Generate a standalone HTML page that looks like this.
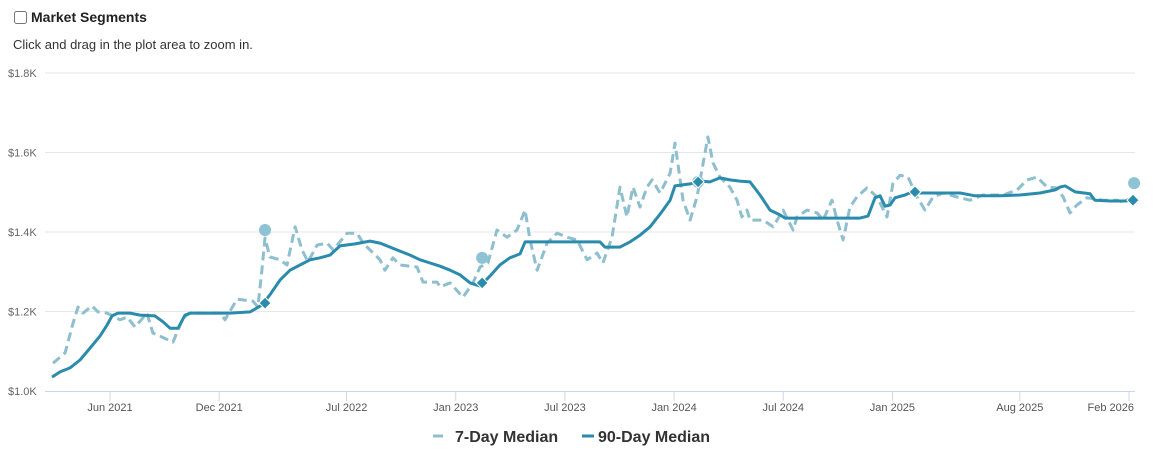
<!DOCTYPE html>
<html><head><meta charset="utf-8"><style>
body{margin:0;background:#fff;font-family:"Liberation Sans",Arial,sans-serif;width:1157px;height:457px;overflow:hidden;position:relative}
.hdr{position:absolute;left:14px;top:9px;font-size:14px;font-weight:bold;color:#222;display:flex;align-items:center}
.hdr input{margin:0 4px 0 0;width:13px;height:13px}
.sub{position:absolute;left:13px;top:37px;font-size:13px;color:#333}
svg{position:absolute;left:0;top:0}
</style></head><body>
<div class="hdr"><input type="checkbox">Market Segments</div>
<div class="sub">Click and drag in the plot area to zoom in.</div>
<svg id="chart" width="1157" height="457"></svg>
<script>
const yTicks=[1000,1200,1400,1600,1800];
const yTickLabels=["$1.0K","$1.2K","$1.4K","$1.6K","$1.8K"];
const xTicks=[5,11,18,24,30,36,42,48,55,61];
const xTickLabels=["Jun 2021","Dec 2021","Jul 2022","Jan 2023","Jul 2023","Jan 2024","Jul 2024","Jan 2025","Aug 2025","Feb 2026"];
const m90=[1.81,2.25,2.8,3.35,3.9,4.45,4.84,5.11,5.44,6.1,6.65,7.47,7.91,8.3,8.74,9.12,9.4,10.5,11.6,12.7,13.35,13.79,14.34,14.89,15.44,15.99,16.54,17.09,17.64,18.47,19.29,19.84,20.39,20.94,21.49,22.04,22.59,23.14,23.69,24.24,24.79,25.34,25.88,26.43,26.98,27.53,27.81,28.63,29.73,30.83,31.93,32.2,33.03,33.58,34.13,34.68,35.23,35.78,36.05,36.88,37.43,37.97,38.52,39.07,39.62,40.17,40.72,41.27,41.82,42.1,42.92,44.02,45.12,46.22,46.66,47.04,47.32,47.59,47.87,48.14,48.69,49.08,49.52,50.62,51.72,52.54,53.91,55.01,56.11,56.94,57.21,57.49,58.04,58.86,59.13,59.96,60.78,61.22];
const v90=[1035,1048,1058,1078,1108,1138,1166,1189,1196,1196,1191,1189,1174,1158,1158,1191,1196,1196,1196,1199,1216,1242,1279,1304,1317,1330,1335,1342,1365,1370,1377,1372,1362,1352,1342,1330,1322,1314,1304,1292,1272,1264,1289,1317,1335,1345,1375,1375,1375,1375,1375,1362,1362,1375,1392,1413,1445,1480,1516,1521,1528,1526,1536,1531,1528,1526,1493,1455,1443,1435,1435,1435,1435,1435,1440,1486,1491,1465,1468,1486,1493,1501,1498,1498,1498,1491,1491,1493,1498,1506,1513,1516,1501,1496,1480,1478,1478,1480];
const m7=[1.87,2.53,2.97,3.24,3.52,4.01,4.34,4.84,5.55,5.94,6.38,7.03,7.36,8.46,9.01,9.4,11.05,11.32,11.98,12.86,13.13,13.35,13.52,13.79,14.34,14.73,15.17,15.55,15.88,16.38,16.93,17.26,18.03,18.58,18.91,19.84,20.11,20.55,20.94,21.87,22.2,22.97,23.14,23.69,24.4,24.95,25.34,25.77,26.27,26.82,27.37,27.81,28.08,28.47,29.02,29.57,30.12,30.67,31.22,31.77,32.09,32.59,33.03,33.41,33.74,34.13,34.51,34.79,35.23,35.78,36.05,36.49,36.88,37.26,37.43,37.86,38.14,38.52,39.07,39.46,39.73,40.01,40.17,40.89,41.44,41.99,42.54,42.76,43.31,43.86,44.19,44.68,44.96,45.29,45.67,46.05,46.6,47.15,47.7,48.03,48.42,48.86,49.35,49.79,50.23,50.78,51.55,52.26,52.98,54.08,54.85,55.4,55.95,56.5,57.05,57.38,57.76,58.14,58.69,59.57,60.34,60.67,61.22];
const v7=[1070,1096,1171,1211,1196,1214,1199,1196,1179,1186,1161,1196,1146,1123,1184,1196,1196,1179,1231,1226,1211,1304,1385,1337,1330,1317,1413,1355,1325,1367,1372,1355,1397,1397,1372,1330,1304,1335,1317,1312,1274,1274,1262,1272,1236,1272,1312,1322,1405,1387,1405,1455,1380,1304,1372,1397,1387,1380,1330,1347,1322,1387,1513,1438,1513,1463,1513,1531,1498,1548,1624,1480,1430,1488,1531,1639,1574,1538,1513,1480,1438,1455,1430,1430,1413,1455,1405,1438,1455,1448,1430,1480,1430,1380,1463,1488,1511,1488,1438,1523,1543,1538,1488,1455,1488,1498,1488,1480,1493,1493,1506,1531,1538,1513,1511,1488,1448,1468,1486,1480,1480,1475,1488];
const circleM=[13.52,25.45,37.32,61.28];
const circleV=[1405,1335,1526,1523];
const diamondM=[13.52,25.45,37.32,49.24,61.22];
const diamondV=[1221,1272,1526,1501,1480];

const NS="http://www.w3.org/2000/svg";
const svg=document.getElementById('chart');
const X0=45,X1=1135,Y0=391,Y1=73;
const xs=m=>110+(m-5)*18.196;
const ys=v=>Y0-(v-1000)/800*(Y0-Y1);
function mk(t,a,p){const e=document.createElementNS(NS,t);for(const k in a)e.setAttribute(k,a[k]);(p||svg).appendChild(e);return e;}
yTicks.forEach((v,i)=>{
  if(i>0){const g=mk('line',{x1:X0,x2:X1,y1:ys(v),y2:ys(v),stroke:'#e6e6e6','stroke-width':1});
  
  }
  const t=mk('text',{x:8,y:ys(v)+4,'font-size':11,fill:'#666'});t.textContent=yTickLabels[i];
  
  
});
const ax=mk('line',{x1:X0,x2:X1,y1:Y0+0.5,y2:Y0+0.5,stroke:'#ccd6eb'});


xTicks.forEach((m,i)=>{
  const x=xs(m);
  const tk=mk('line',{x1:x,x2:x,y1:Y0,y2:Y0+10,stroke:'#ccd6eb'});
  
  
  const last=i===xTicks.length-1;
  const t=mk('text',{x:last?x+5:x,y:Y0+20,'font-size':11,fill:'#555','text-anchor':last?'end':'middle'});
  t.textContent=xTickLabels[i];
  
  
});
function path(ms,vs){return ms.map((m,i)=>(i?'L':'M')+xs(m).toFixed(1)+','+ys(vs[i]).toFixed(1)).join('');}
const p7=mk('path',{d:path(m7,v7),fill:'none',stroke:'#8dbfce','stroke-width':3,'stroke-dasharray':'9,5','stroke-linejoin':'round'});


const p90=mk('path',{d:path(m90,v90),fill:'none',stroke:'#2a8bac','stroke-width':3,'stroke-linejoin':'round'});


circleM.forEach((m,i)=>{
  const c=mk('circle',{cx:xs(m),cy:ys(circleV[i]),r:6,fill:'#8dc3d3'});
  
  
});
diamondM.forEach((m,i)=>{
  const x=xs(m),y=ys(diamondV[i]);
  const d=mk('path',{d:`M${x},${y-6}L${x+6},${y}L${x},${y+6}L${x-6},${y}Z`,fill:'#2a8bac',stroke:'#fff','stroke-width':1});
  
  
});
const lg=mk('g',{});


const l1=mk('line',{x1:433,x2:443,y1:436,y2:436,stroke:'#8dbfce','stroke-width':3},lg);


const t1=mk('text',{x:455,y:442,'font-size':16,'font-weight':'bold',fill:'#333'},lg);t1.textContent='7-Day Median';


const l2=mk('line',{x1:582,x2:594,y1:436,y2:436,stroke:'#2a8bac','stroke-width':3},lg);


const t2=mk('text',{x:598,y:442,'font-size':16,'font-weight':'bold',fill:'#333'},lg);t2.textContent='90-Day Median';


</script>
</body></html>
